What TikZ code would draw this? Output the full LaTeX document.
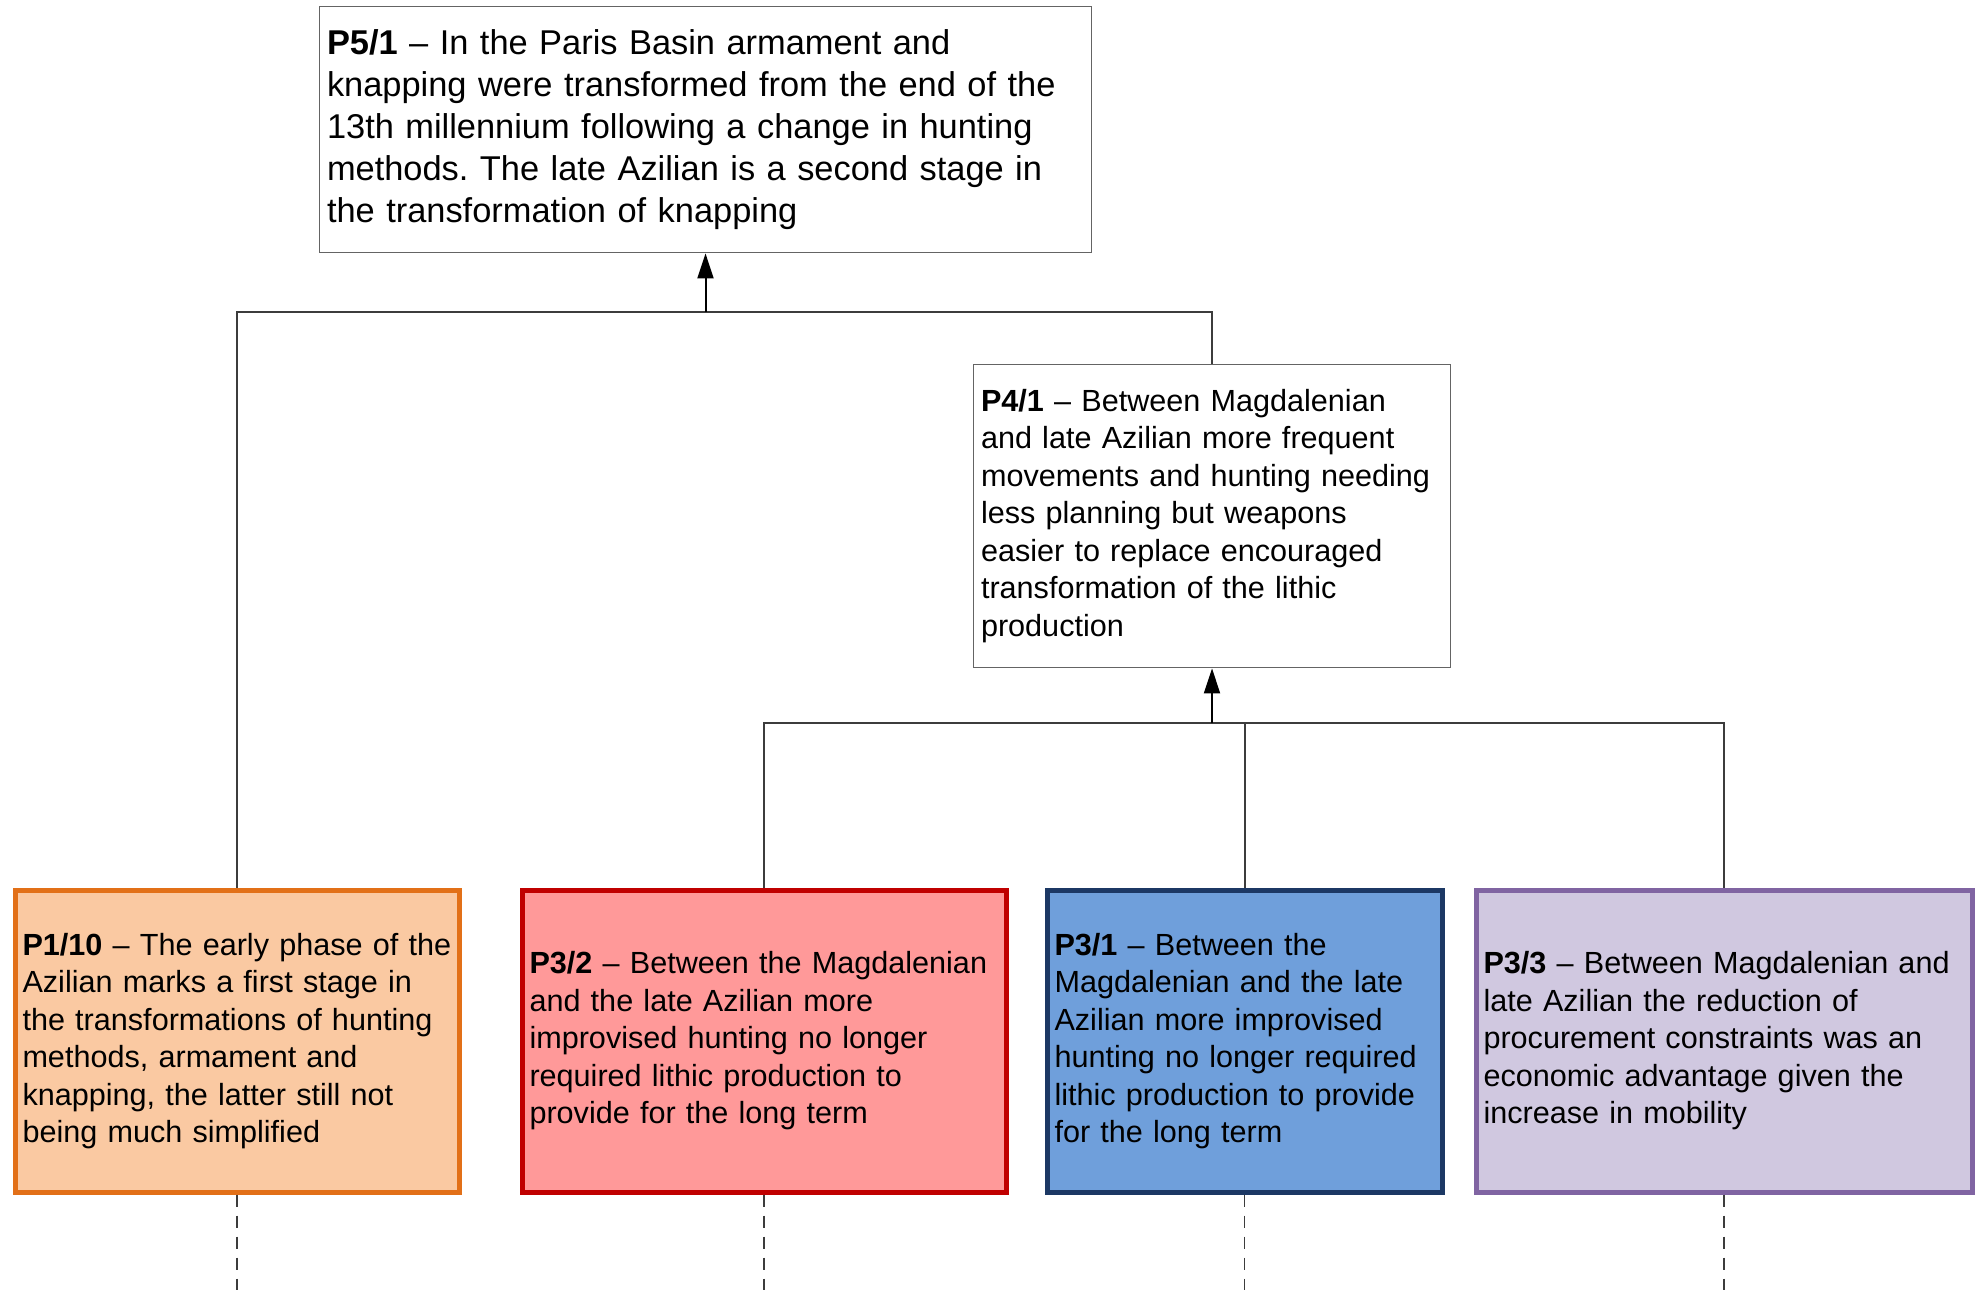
\documentclass[tikz,border=0pt]{standalone}
\usepackage{fontspec}
\setmainfont{Liberation Sans}
\usetikzlibrary{arrows.meta}
\frenchspacing
\definecolor{boxgray}{RGB}{100,100,100}
\definecolor{linegray}{RGB}{60,60,60}
\definecolor{orfill}{RGB}{250,201,162}
\definecolor{ordraw}{RGB}{226,112,24}
\definecolor{rdfill}{RGB}{255,153,153}
\definecolor{rddraw}{RGB}{192,0,0}
\definecolor{blfill}{RGB}{111,159,219}
\definecolor{bldraw}{RGB}{28,56,100}
\definecolor{pufill}{RGB}{208,200,224}
\definecolor{pudraw}{RGB}{128,100,162}
\begin{document}
\begin{tikzpicture}[x=1pt,y=-1pt,
  every node/.style={inner xsep=7.5pt, inner ysep=0pt, align=left,
    execute at begin node={\frenchspacing\hyphenpenalty=10000\exhyphenpenalty=10000\tolerance=10000\emergencystretch=0pt\hfuzz=50pt}},
  plainbox/.style={draw=boxgray, line width=1.8pt, fill=white},
  colbox/.style={line width=5pt, minimum height=302pt},
  bigtxt/.style={font=\fontsize{34.4}{42}\selectfont},
  smalltxt/.style={font=\fontsize{30.6}{37.5}\selectfont},
  conn/.style={draw=linegray, line width=2pt},
  arr/.style={draw=black, line width=2pt, -{Triangle[width=16pt,length=25pt]}},
  dsh/.style={draw=linegray, line width=1.6pt, dash pattern=on 12pt off 9pt}]
\useasboundingbox (0,0) rectangle (1984,1290);

\node[plainbox,bigtxt,minimum width=772pt,minimum height=246pt,text width=757pt] (p51) at (705.5,129.5)
 {\textbf{P5/1} – In the Paris Basin armament and\\knapping were transformed from the end of the\\13th millennium following a change in hunting\\methods. The late Azilian is a second stage in\\the transformation of knapping};

\node[plainbox,smalltxt,minimum width=477pt,minimum height=303pt,text width=462pt] (p41) at (1212,516)
 {\textbf{P4/1} – Between Magdalenian\\and late Azilian more frequent\\movements and hunting needing\\less planning but weapons\\easier to replace encouraged\\transformation of the lithic\\production};

\node[colbox,smalltxt,draw=ordraw,fill=orfill,minimum width=444pt,text width=429pt] (p110) at (237,1041)
 {\mbox{\textbf{P1/10} – The early phase of the}\\Azilian marks a first stage in\\the transformations of hunting\\methods, armament and\\knapping, the latter still not\\being much simplified};

\node[colbox,smalltxt,draw=rddraw,fill=rdfill,minimum width=484pt,text width=469pt] (p32) at (764,1041)
 {\mbox{\textbf{P3/2} – Between the Magdalenian}\\and the late Azilian more\\improvised hunting no longer\\required lithic production to\\provide for the long term};

\node[colbox,smalltxt,draw=bldraw,fill=blfill,minimum width=395pt,text width=380pt] (p31) at (1244.5,1041)
 {\textbf{P3/1} – Between the\\Magdalenian and the late\\Azilian more improvised\\\mbox{hunting no longer required}\\\mbox{lithic production to provide}\\for the long term};

\node[colbox,smalltxt,draw=pudraw,fill=pufill,minimum width=496pt,text width=481pt] (p33) at (1724,1041)
 {\mbox{\textbf{P3/3} – Between Magdalenian and}\\late Azilian the reduction of\\\mbox{procurement constraints was an}\\economic advantage given the\\increase in mobility};

\coordinate (j1) at (705.5,312);
\coordinate (j2) at (1212,723);
\coordinate (bot) at (0,1290);

\draw[conn] (p110.north) |- (j1) -| (p41.north);
\draw[arr] (j1) -- (p51.south);
\draw[conn] (p32.north) |- (j2) -| (p33.north);
\draw[conn] (p31.north) -- (p31.north |- j2);
\draw[arr] (j2) -- (p41.south);

\draw[dsh] (p110.south) -- (p110.south |- bot);
\draw[dsh] (p32.south) -- (p32.south |- bot);
\draw[dsh] (p31.south) -- (p31.south |- bot);
\draw[dsh] (p33.south) -- (p33.south |- bot);
\end{tikzpicture}
\end{document}
